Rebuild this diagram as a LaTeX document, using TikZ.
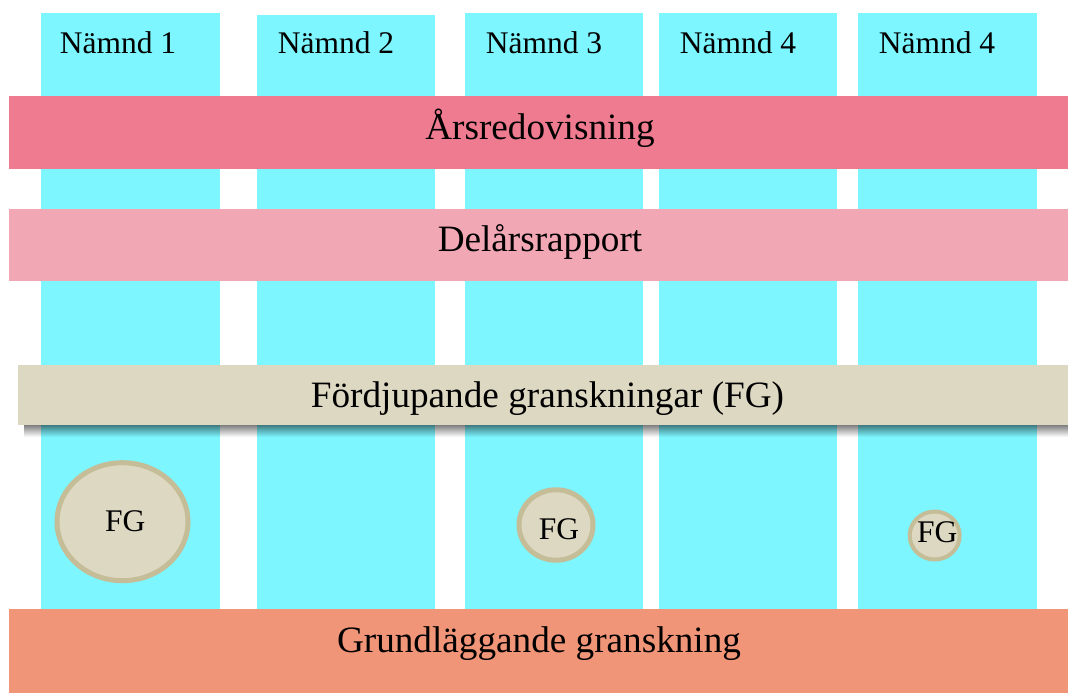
\documentclass[tikz,border=0pt]{standalone}
\usepackage{fontspec}
\setmainfont{Liberation Serif}
\definecolor{colcyan}{HTML}{7DF6FF}
\definecolor{arscol}{HTML}{EE7B8F}
\definecolor{delcol}{HTML}{F2A7B5}
\definecolor{fgcol}{HTML}{DDD8C2}
\definecolor{fgborder}{HTML}{C5BD98}
\definecolor{grundcol}{HTML}{F09577}
\usetikzlibrary{shapes.geometric}
\begin{document}
\begin{tikzpicture}[x=1pt,y=-1pt,
  colbox/.style={fill=colcyan, draw=none, inner sep=0pt, outer sep=0pt, anchor=north west, minimum width=179pt},
  barbox/.style={draw=none, inner sep=0pt, outer sep=0pt, anchor=north west},
  bigtext/.style={inner sep=0pt, anchor=base, font=\fontsize{37.2}{40}\selectfont},
  smalltext/.style={inner sep=0pt, anchor=base, font=\fontsize{31.5}{35}\selectfont},
  fgcircle/.style={ellipse, fill=fgcol, draw=fgborder, inner sep=0pt}
]
\useasboundingbox (0,0) rectangle (1068,693);
% columns
\node[colbox, minimum height=596pt] (c1) at (41,13) {};
\node[colbox, minimum height=594pt, minimum width=178pt] (c2) at (257,15) {};
\node[colbox, minimum height=596pt, minimum width=178pt] (c3) at (465,13) {};
\node[colbox, minimum height=596pt, minimum width=178pt] (c4) at (659,13) {};
\node[colbox, minimum height=596pt] (c5) at (858,13) {};
% column titles
\node[smalltext] (t1) at (118,53.5) {Nämnd 1};
\node[smalltext] (t2) at (336,54) {Nämnd 2};
\node[smalltext] (t3) at (544,53.5) {Nämnd 3};
\node[smalltext] (t4) at (738,53.5) {Nämnd 4};
\node[smalltext] (t5) at (937,54) {Nämnd 4};
% bars
\node[barbox, fill=arscol, minimum width=1059pt, minimum height=73pt] (ars) at (9,96) {};
\node[bigtext] (arst) at (540,139.5) {Årsredovisning};
\node[barbox, fill=delcol, minimum width=1059pt, minimum height=72pt] (del) at (9,209) {};
\node[bigtext] (delt) at (540,251) {Delårsrapport};
% shadow of FG bar
\foreach \i in {0,...,11}{
  \fill[black, opacity={0.5*(1-\i/12)}] (24,425+\i) rectangle (1068,426+\i);
}
\node[barbox, fill=fgcol, minimum width=1050pt, minimum height=60pt] (fgbar) at (18,365) {};
\node[bigtext] (fgbart) at (547.5,407.5) {Fördjupande granskningar (FG)};
\node[barbox, fill=grundcol, minimum width=1059pt, minimum height=84pt] (grund) at (9,609) {};
\node[bigtext] (grundt) at (539,652) {Grundläggande granskning};
% FG circles
\node[fgcircle, line width=5pt, minimum width=131pt, minimum height=118pt] (fg1) at (122.5,521.7) {};
\node[fgcircle, line width=5pt, minimum width=74pt, minimum height=70.5pt] (fg2) at (556,525) {};
\node[fgcircle, line width=4pt, minimum width=50pt, minimum height=48pt] (fg3) at (934.7,535.5) {};
\node[smalltext] (fg1t) at (125.3,531.7) {FG};
\node[smalltext] (fg2t) at (559,539.3) {FG};
\node[smalltext] (fg3t) at (937.3,542.3) {FG};
\end{tikzpicture}
\end{document}
